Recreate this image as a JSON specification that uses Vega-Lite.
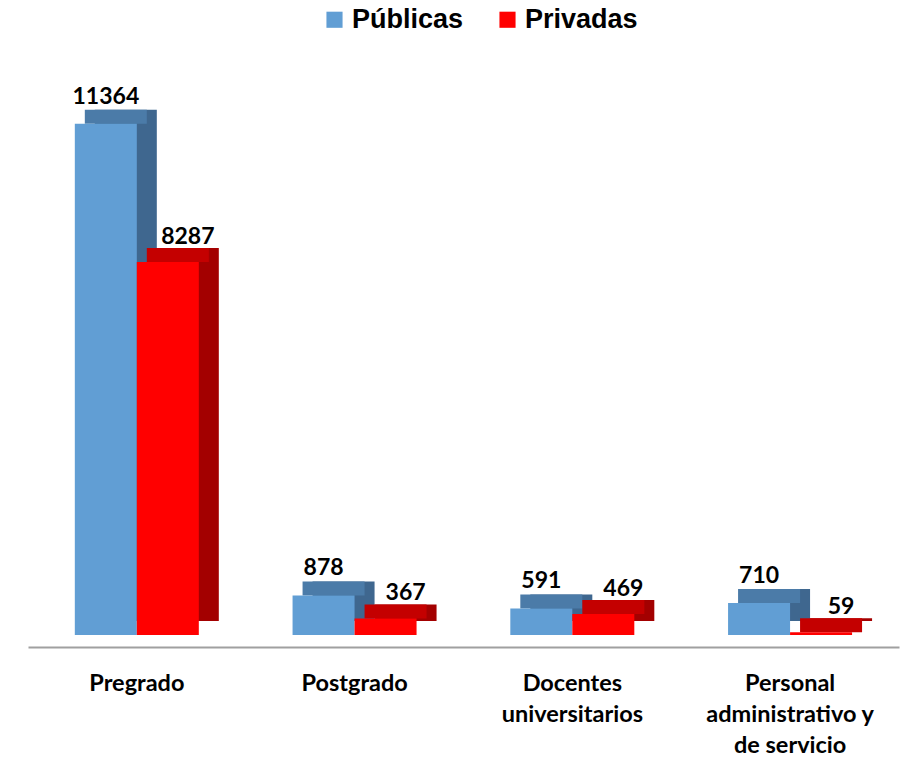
{
  "$schema": "https://vega.github.io/schema/vega-lite/v6.json",
  "autosize": "none",
  "width": 871,
  "height": 565,
  "padding": {"left": 28, "top": 70, "right": 25, "bottom": 123},
  "background": "white",
  "data": {
    "values": [
      {"category": "Pregrado", "series": "Públicas", "value": 11364},
      {"category": "Pregrado", "series": "Privadas", "value": 8287},
      {"category": "Postgrado", "series": "Públicas", "value": 878},
      {"category": "Postgrado", "series": "Privadas", "value": 367},
      {"category": "Docentes universitarios", "series": "Públicas", "value": 591},
      {"category": "Docentes universitarios", "series": "Privadas", "value": 469},
      {"category": "Personal administrativo y de servicio", "series": "Públicas", "value": 710},
      {"category": "Personal administrativo y de servicio", "series": "Privadas", "value": 59}
    ]
  },
  "encoding": {
    "x": {
      "field": "category",
      "type": "nominal",
      "sort": null,
      "scale": {"paddingInner": 0.43, "paddingOuter": 0.215},
      "axis": {
        "title": null,
        "labelAngle": 0,
        "domain": true,
        "domainColor": "#A0A0A0",
        "domainWidth": 2,
        "offset": 12,
        "ticks": false,
        "labelPadding": 24,
        "labelFont": "Lato",
        "labelFontWeight": "bold",
        "labelFontSize": 23.5,
        "labelColor": "#000000",
        "labelLineHeight": 31,
        "labelBaseline": "top",
        "labelExpr": "datum.value == 'Docentes universitarios' ? ['Docentes', 'universitarios'] : datum.value == 'Personal administrativo y de servicio' ? ['Personal', 'administrativo y', 'de servicio'] : datum.value"
      }
    },
    "y": {
      "field": "value",
      "type": "quantitative",
      "scale": {"domain": [0, 12556], "nice": false},
      "axis": null
    }
  },
  "layer": [
    {
      "mark": {"type": "bar", "yOffset": -14, "y2Offset": -7},
      "encoding": {
        "xOffset": {"field": "series", "type": "nominal", "sort": ["Públicas", "Privadas"], "scale": {"domain": ["Públicas", "Privadas"], "range": [20, 144], "paddingInner": 0, "paddingOuter": 0}},
        "color": {
          "field": "series", "type": "nominal",
          "scale": {"domain": ["Públicas", "Privadas"], "range": ["#3F678F", "#A30000"]},
          "legend": null
        }
      }
    },
    {
      "mark": {"type": "bar", "yOffset": -14, "y2Offset": 0},
      "encoding": {
        "xOffset": {"field": "series", "type": "nominal", "sort": ["Públicas", "Privadas"], "scale": {"domain": ["Públicas", "Privadas"], "range": [10, 134], "paddingInner": 0, "paddingOuter": 0}},
        "y2": {"field": "value"},
        "color": {
          "field": "series", "type": "nominal",
          "scale": {"domain": ["Públicas", "Privadas"], "range": ["#4B7BA8", "#C40000"]},
          "legend": null
        }
      }
    },
    {
      "mark": {"type": "bar"},
      "encoding": {
        "xOffset": {"field": "series", "type": "nominal", "sort": ["Públicas", "Privadas"], "scale": {"domain": ["Públicas", "Privadas"], "range": [0, 124], "paddingInner": 0, "paddingOuter": 0}},
        "color": {
          "field": "series", "type": "nominal",
          "scale": {"domain": ["Públicas", "Privadas"], "range": ["#619ED4", "#FF0000"]},
          "legend": {
            "title": null,
            "orient": "none",
            "direction": "horizontal",
            "legendX": 293,
            "legendY": -64,
            "symbolType": "square",
            "symbolSize": 260,
            "symbolStrokeWidth": 0,
            "labelFont": "Liberation Sans",
            "labelFontWeight": "bold",
            "labelFontSize": 27,
            "labelColor": "#000000",
            "labelOffset": 4,
            "columnPadding": 30,
            "symbolOffset": 0
          }
        }
      }
    },
    {
      "transform": [{"filter": "datum.series == 'Públicas'"}],
      "mark": {"type": "text", "baseline": "bottom", "dy": -15, "dx": -31, "font": "Lato", "fontWeight": "bold", "fontSize": 23, "color": "#000000"},
      "encoding": {"text": {"field": "value", "type": "quantitative", "format": "d"}}
    },
    {
      "transform": [{"filter": "datum.series == 'Privadas'"}],
      "mark": {"type": "text", "baseline": "bottom", "dy": -13, "dx": 51, "font": "Lato", "fontWeight": "bold", "fontSize": 23, "color": "#000000"},
      "encoding": {"text": {"field": "value", "type": "quantitative", "format": "d"}}
    }
  ],
  "resolve": {"scale": {"color": "independent", "xOffset": "independent"}},
  "config": {"view": {"stroke": null}}
}
